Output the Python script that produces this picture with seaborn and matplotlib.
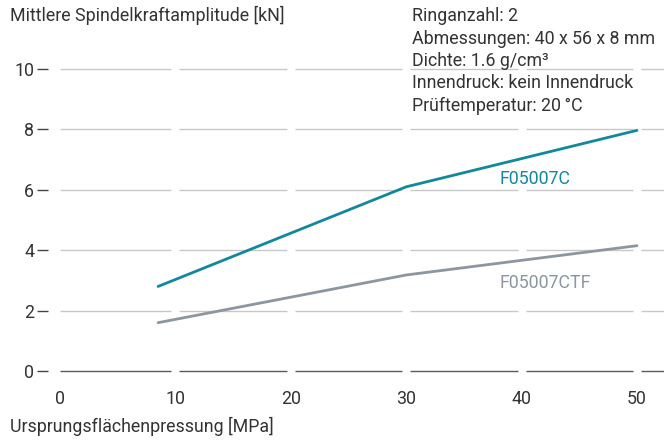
import matplotlib
matplotlib.use("Agg")
import matplotlib.pyplot as plt
import seaborn as sns
import pandas as pd

# Data
pressure = [8.5, 30, 50]
f05007c = [2.8, 6.1, 7.97]
f05007ctf = [1.6, 3.18, 4.15]
series_names = ["F05007C", "F05007CTF"]
x_ticks = [0, 10, 20, 30, 40, 50]
y_ticks = [0, 2, 4, 6, 8, 10]
info_lines = ["Ringanzahl: 2", "Abmessungen: 40 x 56 x 8 mm", "Dichte: 1.6 g/cm³",
              "Innendruck: kein Innendruck", "Prüftemperatur: 20\u202f°C"]

teal = "#12889b"
grey = "#8c96a1"
text_c = "#333333"
fs = 12.8

sns.set_theme(style="white")
plt.rcParams['font.family'] = ['Roboto', 'DejaVu Sans']

df = pd.DataFrame({
    "x": pressure * 2,
    "y": f05007c + f05007ctf,
    "s": [series_names[0]] * 3 + [series_names[1]] * 3,
})

fig = plt.figure(figsize=(6.64, 4.40), dpi=100)
ax = fig.add_axes([60 / 664, (440 - 371) / 440, (664 - 60) / 664, (371 - 60) / 440])
xmax = 52.34
ax.set_xlim(0, xmax)
ax.set_ylim(0, 10.3)

# segmented gridlines with gaps at x ticks
gap = 0.35
bounds = [0] + x_ticks[1:] + [xmax]
for yv in y_ticks:
    col = "#5a5a5a" if yv == 0 else "#c8c8c8"
    for i in range(len(bounds) - 1):
        a = bounds[i] + (gap if i > 0 else 0)
        b = bounds[i + 1] - (gap if i + 1 < len(bounds) - 1 else 0)
        ax.plot([a, b], [yv, yv], color=col, lw=1.0, zorder=1,
                solid_capstyle="butt", clip_on=False)

sns.lineplot(data=df, x="x", y="y", hue="s", palette=[teal, grey], lw=2.0,
             legend=False, ax=ax, zorder=3)

for s in ax.spines.values():
    s.set_visible(False)
ax.spines['left'].set_position(('outward', 8.6))
ax.set_xticks(x_ticks)
ax.set_yticks(y_ticks)
ax.set_xticklabels([str(v) for v in x_ticks])
ax.set_yticklabels([str(v) for v in y_ticks])
ax.tick_params(axis='x', length=0, pad=13.5, labelsize=fs, labelcolor=text_c)
ax.tick_params(axis='y', length=8, width=1.0, color="#444444", direction='out',
               pad=2, labelsize=fs, labelcolor=text_c, left=True)
ax.set_xlabel("")
ax.set_ylabel("")

fig.text(10 / 664, 1 - 15 / 440, "Mittlere Spindelkraftamplitude [kN]", fontsize=fs,
         color=text_c, va="center", ha="left")
fig.text(10 / 664, 1 - 426 / 440, "Ursprungsflächenpressung [MPa]", fontsize=fs,
         color=text_c, va="center", ha="left")
for i, line in enumerate(info_lines):
    fig.text(412 / 664, 1 - (16 + i * 22.5) / 440, line, fontsize=fs,
             color=text_c, va="center", ha="left")

ax.text(38.1, 6.35, series_names[0], color=teal, fontsize=fs, va="center", ha="left")
ax.text(38.1, 2.9, series_names[1], color=grey, fontsize=fs, va="center", ha="left")

fig.savefig("out.png", dpi=100)
